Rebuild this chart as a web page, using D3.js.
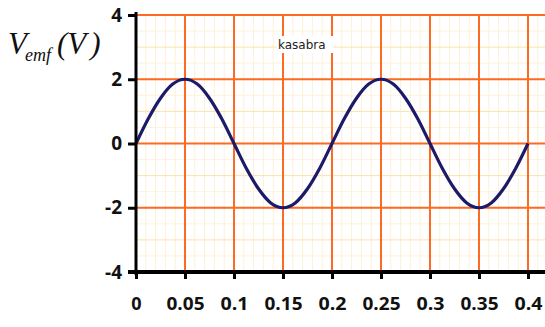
<!DOCTYPE html>
<html>
<head>
<meta charset="utf-8">
<script src="https://cdn.jsdelivr.net/npm/d3@7"></script>
<style>
  body { margin: 0; background: #fff; }
  svg { display: block; }
</style>
</head>
<body>
<svg width="545" height="327"></svg>
<script>
// values
var times = [0, 0.0125, 0.025, 0.0375, 0.05, 0.0625, 0.075, 0.0875, 0.1,
             0.1125, 0.125, 0.1375, 0.15, 0.1625, 0.175, 0.1875, 0.2,
             0.2125, 0.225, 0.2375, 0.25, 0.2625, 0.275, 0.2875, 0.3,
             0.3125, 0.325, 0.3375, 0.35, 0.3625, 0.375, 0.3875, 0.4];
var volts = [0, 0.77, 1.41, 1.85, 2, 1.85, 1.41, 0.77, 0,
             -0.77, -1.41, -1.85, -2, -1.85, -1.41, -0.77, 0,
             0.77, 1.41, 1.85, 2, 1.85, 1.41, 0.77, 0,
             -0.77, -1.41, -1.85, -2, -1.85, -1.41, -0.77, 0];
var xTicks = [0, 0.05, 0.1, 0.15, 0.2, 0.25, 0.3, 0.35, 0.4];
var xTickLabels = ["0", "0.05", "0.1", "0.15", "0.2", "0.25", "0.3", "0.35", "0.4"];
var yTicks = [-4, -2, 0, 2, 4];
var yTickLabels = ["-4", "-2", "0", "2", "4"];

var svg = d3.select("svg");

var x = d3.scaleLinear().domain([0, 0.4]).range([136, 528]);
var y = d3.scaleLinear().domain([-4, 4]).range([272, 15]);
var xEnd = x.invert(545);

var grid = svg.append("g");

// minor grid
grid.selectAll("line.vmin")
    .data(d3.range(0, xEnd, 0.01))
    .enter().append("line")
    .attr("x1", d => x(d)).attr("x2", d => x(d))
    .attr("y1", y(4)).attr("y2", y(-4))
    .attr("stroke", "#fdf1d6").attr("stroke-width", 1);

grid.selectAll("line.hmin")
    .data(d3.range(-4, 4.01, 0.5))
    .enter().append("line")
    .attr("x1", x(0)).attr("x2", 545)
    .attr("y1", d => y(d)).attr("y2", d => y(d))
    .attr("stroke", d => Math.abs(d % 1) === 0 ? "#fbe2ac" : "#fdf3dc")
    .attr("stroke-width", 1);

// major grid
grid.selectAll("line.vmaj")
    .data(d3.range(0.05, xEnd, 0.05))
    .enter().append("line")
    .attr("x1", d => x(d)).attr("x2", d => x(d))
    .attr("y1", y(4)).attr("y2", y(-4))
    .attr("stroke", "#ff6a22").attr("stroke-width", 2);

grid.selectAll("line.hmaj")
    .data(yTicks.filter(d => d > -4))
    .enter().append("line")
    .attr("x1", x(0)).attr("x2", 545)
    .attr("y1", d => y(d)).attr("y2", d => y(d))
    .attr("stroke", "#ff6a22").attr("stroke-width", 2);

// curve
var line = d3.line()
    .x(function(d, i) { return x(times[i]); })
    .y(function(d) { return y(d); })
    .curve(d3.curveCardinal);

svg.append("path")
    .datum(volts)
    .attr("d", line)
    .attr("fill", "none")
    .attr("stroke", "#1c1a6a")
    .attr("stroke-width", 3.2);

// axes
var xAxis = d3.axisBottom(x)
    .tickValues(xTicks)
    .tickFormat(function(d, i) { return xTickLabels[i]; })
    .tickSizeInner(7).tickSizeOuter(0).tickPadding(18);

var gx = svg.append("g")
    .attr("transform", "translate(0," + y(-4) + ")")
    .call(xAxis);
gx.select(".domain").remove();
gx.selectAll(".tick line").attr("stroke", "#000").attr("stroke-width", 3);
gx.selectAll(".tick text")
    .attr("fill", "#111")
    .style("font-family", "'Open Sans', sans-serif")
    .style("font-weight", "bold")
    .style("font-size", "18px")
    .attr("textLength", function(d, i) { return xTickLabels[i].length > 3 ? 38 : (xTickLabels[i].length > 1 ? 28 : null); })
    .attr("lengthAdjust", "spacingAndGlyphs");
gx.append("line")
    .attr("x1", 128).attr("x2", 545)
    .attr("y1", 0).attr("y2", 0)
    .attr("stroke", "#000").attr("stroke-width", 4);

var yAxis = d3.axisLeft(y)
    .tickValues(yTicks)
    .tickFormat(function(d, i) { return yTickLabels[i]; })
    .tickSizeInner(8).tickSizeOuter(0).tickPadding(6);

var gy = svg.append("g")
    .attr("transform", "translate(" + x(0) + ",0)")
    .call(yAxis);
gy.select(".domain").remove();
gy.selectAll(".tick line").attr("stroke", "#000").attr("stroke-width", 3);
gy.selectAll(".tick text")
    .attr("fill", "#111")
    .style("font-family", "'Open Sans', sans-serif")
    .style("font-weight", "bold")
    .style("font-size", "19px");
gy.append("line")
    .attr("x1", 0).attr("x2", 0)
    .attr("y1", y(4) - 3).attr("y2", y(-4) + 3)
    .attr("stroke", "#000").attr("stroke-width", 3);

// y label
var lab = svg.append("text")
    .attr("x", 8).attr("y", 54)
    .style("font-family", "'Liberation Serif', 'Times New Roman', serif")
    .style("font-style", "italic")
    .attr("fill", "#111");
lab.append("tspan").style("font-size", "31px").text("V");
lab.append("tspan").style("font-size", "18px").attr("dy", 7).attr("dx", -2).text("emf");
lab.append("tspan").style("font-size", "31px").attr("dy", -7).attr("dx", 6).text("(");
lab.append("tspan").style("font-size", "31px").text("V");
lab.append("tspan").style("font-size", "31px").attr("dx", 4).text(")");

// watermark-ish label
var kb = svg.append("g").attr("transform", "translate(277,45)");
kb.append("rect")
    .attr("x", 0).attr("y", -9).attr("width", 56).attr("height", 17)
    .attr("fill", "#fff");
kb.append("text")
    .attr("x", 1).attr("y", 4)
    .style("font-family", "'DejaVu Sans', sans-serif")
    .style("font-size", "12px")
    .attr("fill", "#222")
    .text("kasabra");
</script>
</body>
</html>
